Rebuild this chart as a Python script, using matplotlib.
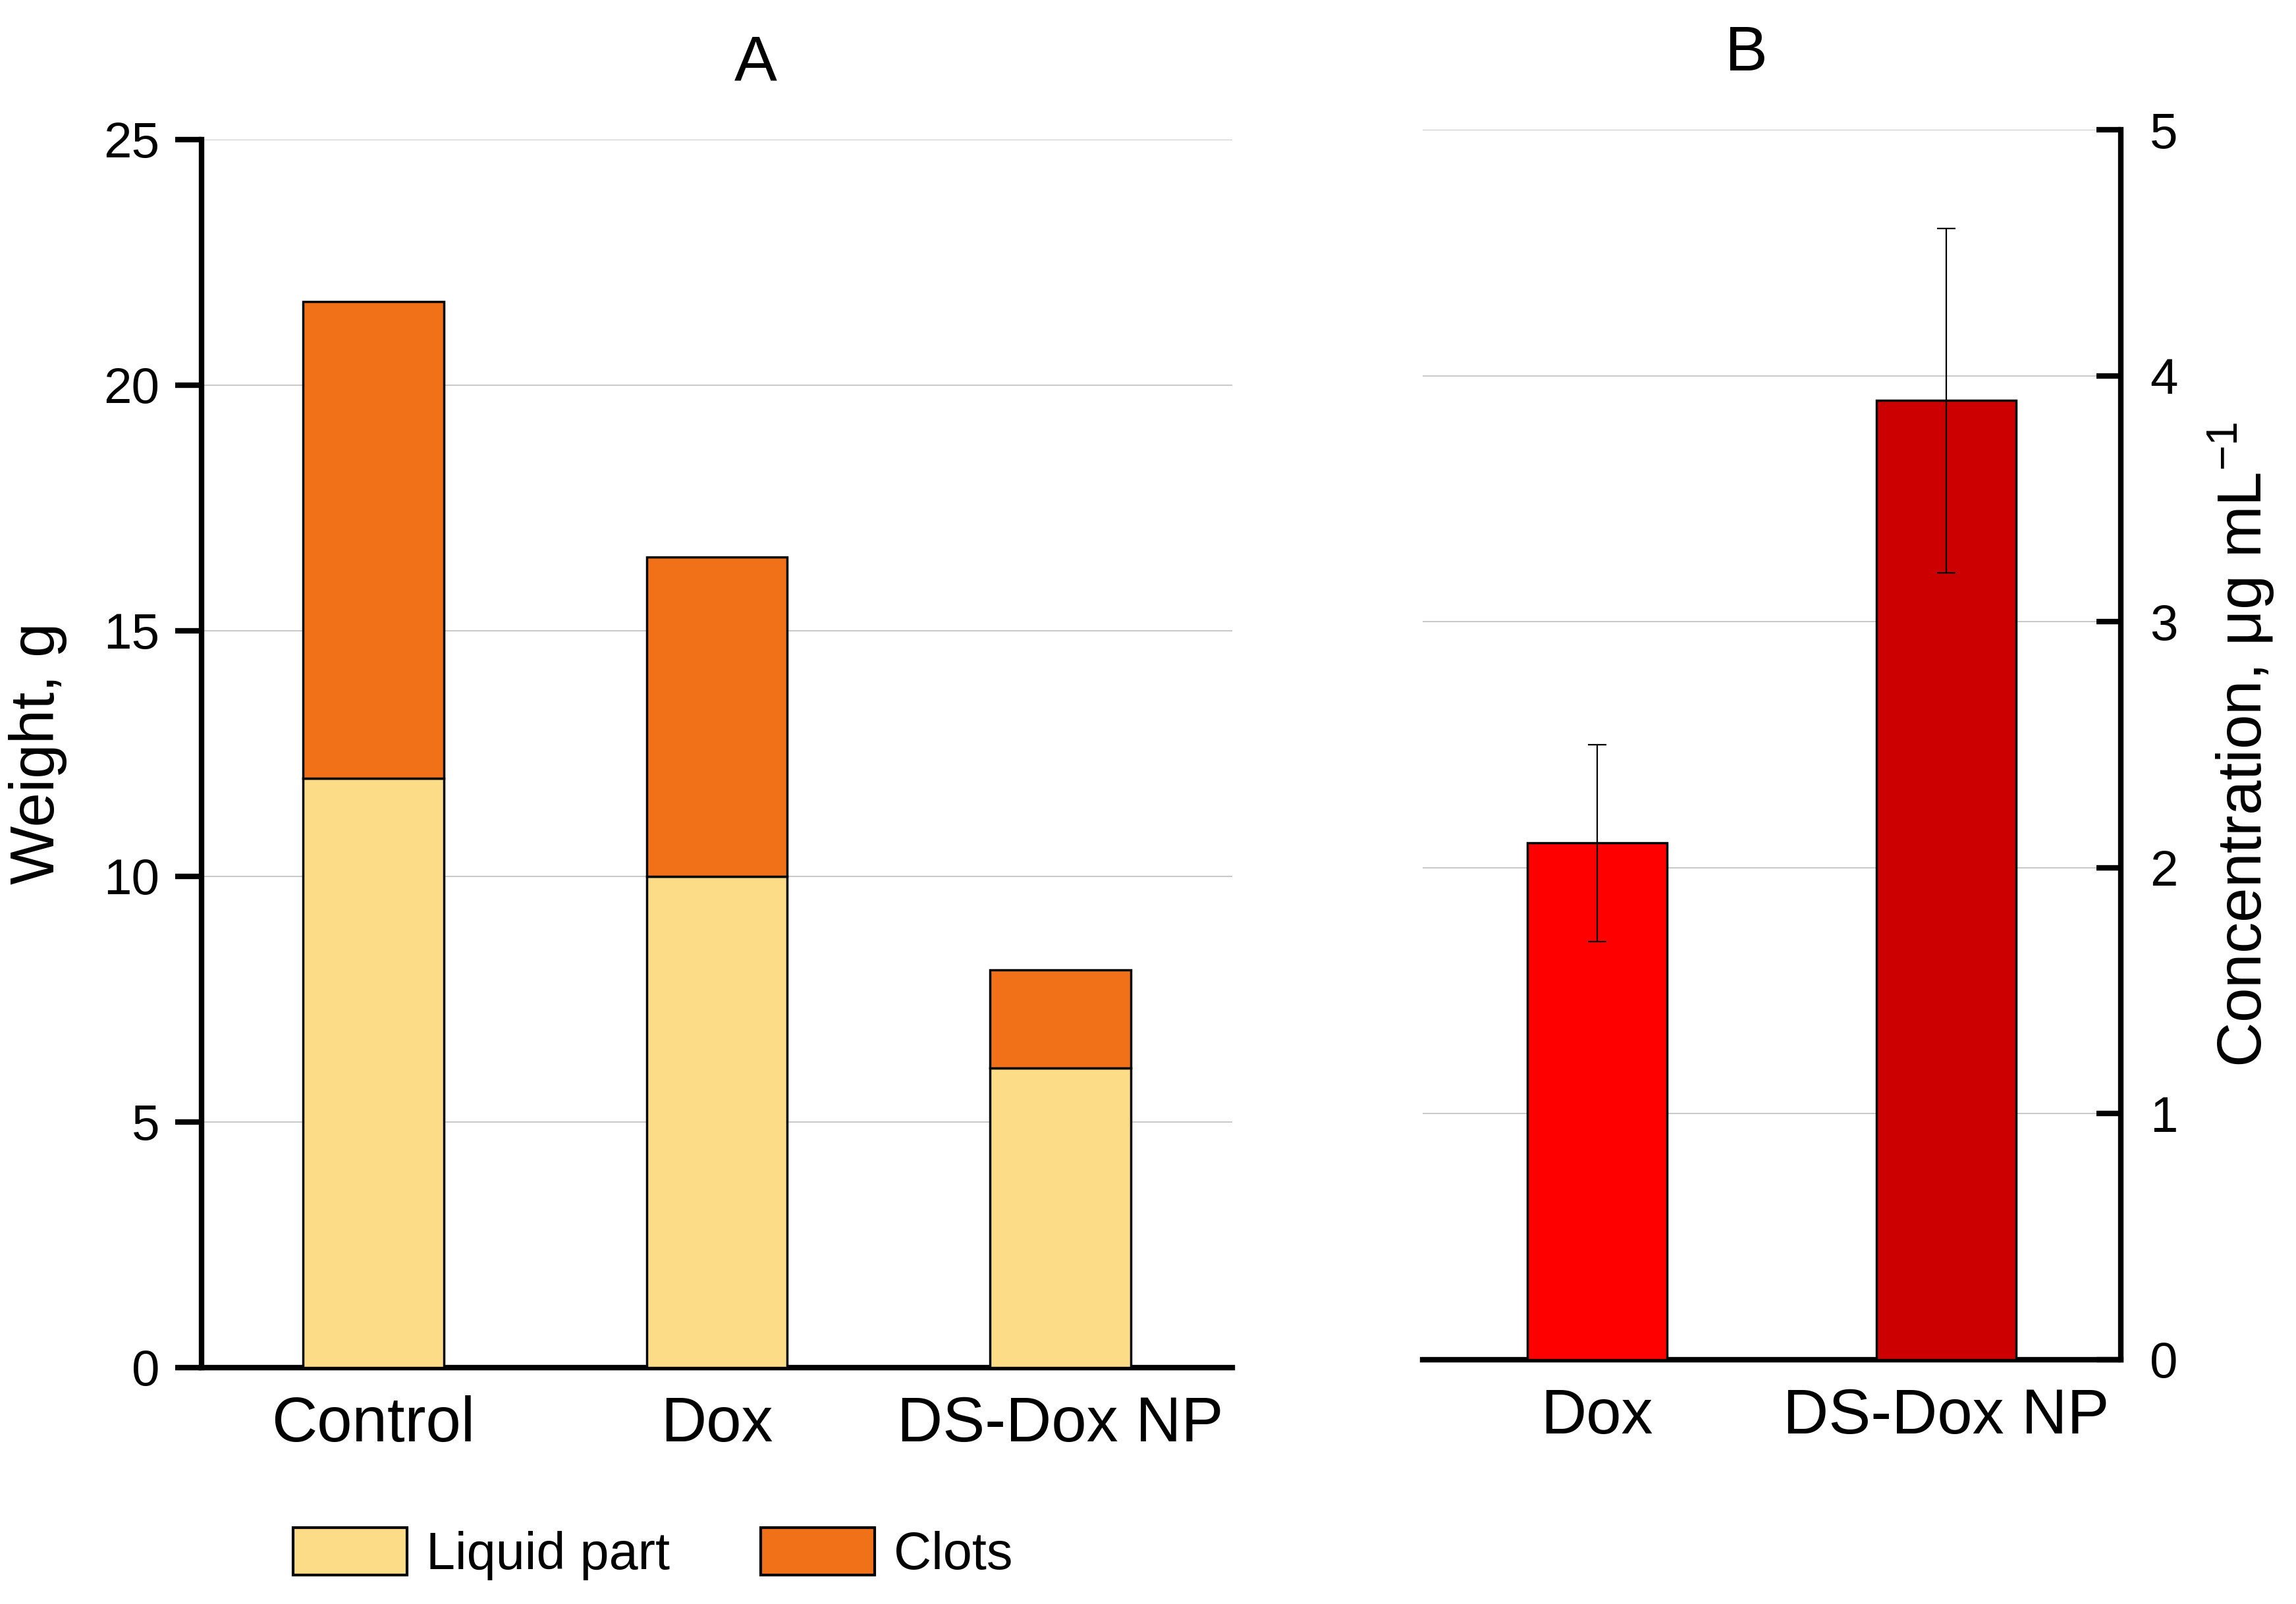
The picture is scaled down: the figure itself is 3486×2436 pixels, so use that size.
import numpy as np
import matplotlib
matplotlib.use('Agg')
import matplotlib.pyplot as plt
from matplotlib.patches import Patch

plt.rcParams['font.family'] = ['Liberation Sans', 'DejaVu Sans']

# panel A: weight of exudate
GroupsA = ['Control', 'Dox', 'DS-Dox NP']
Liquid = [12.0, 10.0, 6.1]
Clots = [9.7, 6.5, 2.0]
TicksA = [0, 5, 10, 15, 20, 25]

# panel B: Dox concentration
GroupsB = ['Dox', 'DS-Dox NP']
Conc = [2.1, 3.9]
ConcErr = [0.4, 0.7]
TicksB = [0, 1, 2, 3, 4, 5]

LiquidColor = '#FDDC88'
ClotColor = '#F07118'
BColors = ['#FF0000', '#CC0000']

W, H = 3487, 2436
fig = plt.figure(figsize=(W / 100, H / 100), dpi=100)

axA = fig.add_axes([0.0878, 0.1474, 0.5365 - 0.0878, 0.9130 - 0.1474])
axB = fig.add_axes([0.6194, 0.1523, 0.9234 - 0.6194, 0.9191 - 0.1523])

xA = np.arange(len(GroupsA))
axA.bar(xA, Liquid, width=0.41, color=LiquidColor, edgecolor='black', linewidth=2.5, zorder=3)
axA.bar(xA, Clots, width=0.41, bottom=Liquid, color=ClotColor, edgecolor='black', linewidth=2.5, zorder=3)
axA.set_xlim(-0.5, 2.5)
axA.set_ylim(0, 25)
axA.set_yticks(TicksA)
axA.set_xticks(xA)
axA.set_xticklabels(GroupsA)
axA.set_ylabel('Weight, g', fontsize=68, labelpad=40)
axA.yaxis.grid(True, color='#C8C8C8', linewidth=1.4, zorder=0)
axA.set_axisbelow(True)
for s in ['top', 'right']:
    axA.spines[s].set_visible(False)
for s in ['left', 'bottom']:
    axA.spines[s].set_linewidth(6)
axA.tick_params(axis='y', direction='out', length=29, width=6, labelsize=55, pad=17)
axA.tick_params(axis='x', length=0, labelsize=69, pad=30)

xB = np.arange(len(GroupsB))
axB.bar(xB, Conc, width=0.4, color=BColors, edgecolor='black', linewidth=2.5, zorder=3)
axB.errorbar(xB, Conc, yerr=ConcErr, fmt='none', ecolor='black', elinewidth=1.6,
             capsize=10, capthick=1.6, zorder=4)
axB.set_xlim(-0.5, 1.5)
axB.set_ylim(0, 5)
axB.set_yticks(TicksB)
axB.set_xticks(xB)
axB.set_xticklabels(GroupsB)
axB.yaxis.tick_right()
axB.yaxis.set_label_position('right')
axB.set_ylabel('Concentration, $\\mathregular{\\mu}$g mL$^{\\mathregular{-1}}$', fontsize=68, labelpad=30)
axB.yaxis.grid(True, color='#C8C8C8', linewidth=1.4, zorder=0)
axB.set_axisbelow(True)
for s in ['top', 'left']:
    axB.spines[s].set_visible(False)
for s in ['right', 'bottom']:
    axB.spines[s].set_linewidth(6)
axB.tick_params(axis='y', direction='in', length=27, width=6, labelsize=55, pad=32)
axB.tick_params(axis='x', length=0, labelsize=69, pad=30)

fig.text(1147 / W, 1 - 96 / H, 'A', fontsize=70, ha='center', va='center')
fig.text(2651 / W, 1 - 82 / H, 'B', fontsize=70, ha='center', va='center')

handles = [Patch(facecolor=LiquidColor, edgecolor='black', linewidth=3, label='Liquid part'),
           Patch(facecolor=ClotColor, edgecolor='black', linewidth=3, label='Clots')]
fig.legend(handles=handles, loc='center left', bbox_to_anchor=(445 / W, 1 - 2360 / H),
           ncol=2, frameon=False, fontsize=57, handlelength=2.18, handleheight=1.03,
           handletextpad=0.37, columnspacing=1.75, borderpad=0, borderaxespad=0)

fig.savefig('out.png', dpi=100, facecolor='white')
